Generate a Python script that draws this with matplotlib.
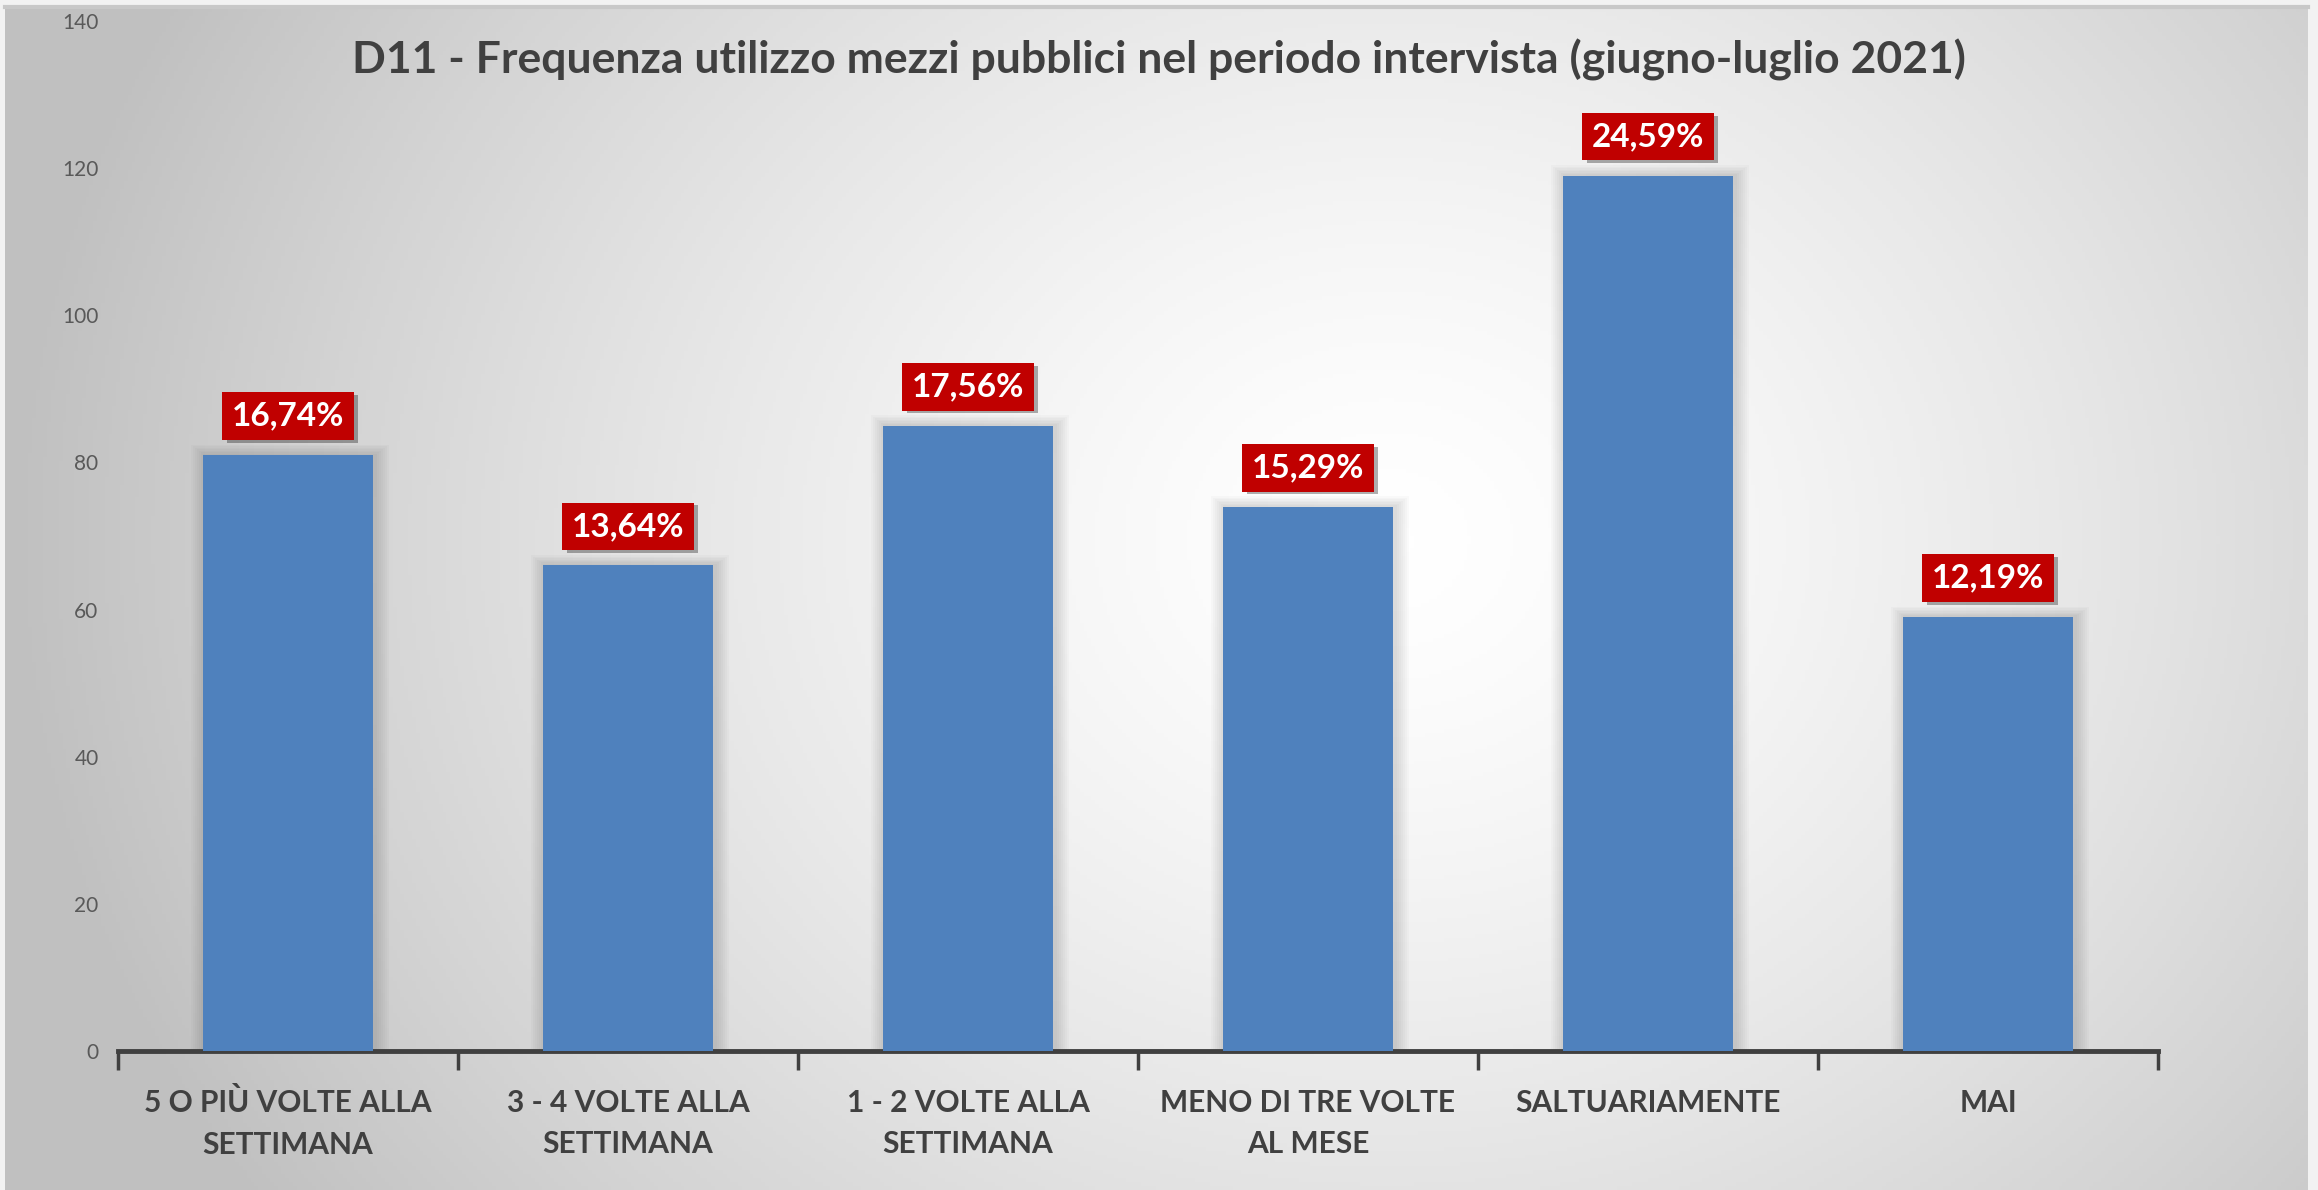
import numpy as np
import matplotlib
matplotlib.use("Agg")
import matplotlib.pyplot as plt
from matplotlib.colors import LinearSegmentedColormap

categories = ["5 O PIÙ VOLTE ALLA\nSETTIMANA", "3 - 4 VOLTE ALLA\nSETTIMANA",
              "1 - 2 VOLTE ALLA\nSETTIMANA", "MENO DI TRE VOLTE\nAL MESE",
              "SALTUARIAMENTE", "MAI"]
counts = [81, 66, 85, 74, 119, 59]
percent_labels = ["16,74%", "13,64%", "17,56%", "15,29%", "24,59%", "12,19%"]
yticks = [0, 20, 40, 60, 80, 100, 120, 140]
title = "D11 - Frequenza utilizzo mezzi pubblici nel periodo intervista (giugno-luglio 2021)"

W, H = 2318, 1190
fig = plt.figure(figsize=(W / 100, H / 100), dpi=100)
fig.patch.set_facecolor("#f2f2f2")

# background gradient panel
bg = fig.add_axes([5 / W, 0, (2308 - 5) / W, 1 - 8 / H], zorder=0)
ny, nx = 300, 600
xs = np.linspace(0, 1, nx)
ys = np.linspace(0, 1, ny)
X, Y = np.meshgrid(xs, ys)
d = np.sqrt(((X - 0.6) / 0.6) ** 2 + ((Y - 0.45) / 1.0) ** 2)
d = np.clip(d, 0, 1) ** 1.4
cmap = LinearSegmentedColormap.from_list("g", ["#ffffff", "#c0c0c0"])
bg.imshow(d, cmap=cmap, aspect="auto", extent=[0, 1, 1, 0], vmin=0, vmax=1)
bg.set_axis_off()
fig.add_artist(plt.Line2D([5 / W, 2308 / W], [1 - 7 / H, 1 - 7 / H], color="#c8c8c8", lw=3, zorder=1))

ax = fig.add_axes([118 / W, 1 - 1051 / H, (2158 - 118) / W, (1051 - 21) / H], zorder=2)
ax.set_facecolor("none")
x = np.arange(len(categories))

# soft glow shadows
for k in range(7):
    ax.bar(x + 0.006, [c + 0.2 * (k + 1) for c in counts], width=0.5 + 0.012 * (k + 1),
           color="#000000", alpha=0.018, zorder=1)
ax.bar(x, counts, width=0.5, color="#4f81bd", zorder=3)

ax.set_xlim(-0.5, len(categories) - 0.5)
ax.set_ylim(0, 140)
ax.set_yticks(yticks)
ax.set_yticklabels([str(v) for v in yticks], fontsize=15, color="#595959", family="Lato")
ax.tick_params(axis="y", length=0, pad=14)
for s in ["top", "right", "left"]:
    ax.spines[s].set_visible(False)
ax.spines["bottom"].set_color("#404040")
ax.spines["bottom"].set_linewidth(3.5)

ax.set_xticks(x)
ax.set_xticklabels(categories, fontsize=21.5, fontweight="bold", color="#404040",
                   family="Lato", linespacing=1.6)
ax.tick_params(axis="x", length=0, pad=27)
ax.set_xticks(np.arange(-0.5, len(categories)), minor=True)
ax.tick_params(axis="x", which="minor", length=14, width=2.5, color="#404040")

for xi, c, lab in zip(x, counts, percent_labels):
    ax.annotate(lab, (xi, c), xytext=(3, 26), textcoords="offset points", ha="center", va="center",
                fontsize=24, fontweight="bold", color="none", family="Lato", zorder=4,
                bbox=dict(boxstyle="square,pad=0.28", fc="#00000050", ec="none"))
    ax.annotate(lab, (xi, c), xytext=(0, 28), textcoords="offset points", ha="center", va="center",
                fontsize=24, fontweight="bold", color="white", family="Lato", zorder=5,
                bbox=dict(boxstyle="square,pad=0.28", fc="#c00000", ec="none"))

fig.text(0.5, 1 - 60 / H, title, ha="center", va="center", fontsize=32, fontweight="bold",
         color="#404040", family="Lato", zorder=3)

fig.savefig("out.png", dpi=100)
